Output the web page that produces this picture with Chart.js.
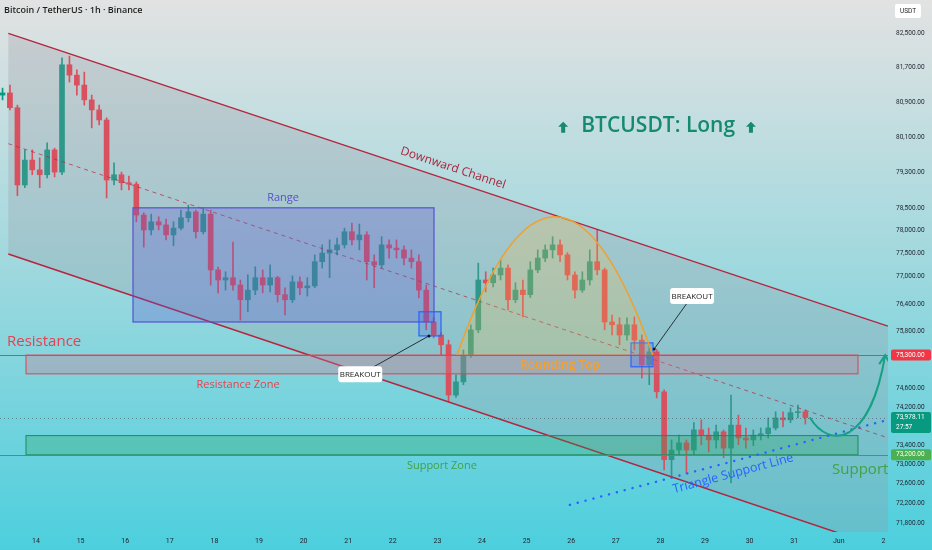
<!DOCTYPE html>
<html>
<head>
<meta charset="utf-8">
<title>BTCUSDT 1h</title>
<script src="https://cdn.jsdelivr.net/npm/chart.js@4.4.1/dist/chart.umd.min.js"></script>
<style>
  html, body { margin: 0; padding: 0; background: #dcdcdc; }
  #wrap { width: 932px; height: 550px; position: relative; }
</style>
</head>
<body>
<div id="wrap"><canvas id="btcChart" width="932" height="550"></canvas></div>
<script>
// candles are 4h, first one opens May 13 04:00 (x axis = day of month)
const firstCandleDay = 13 + 4 / 24
const candleHours = 4

const opens = [81060, 81110, 80770, 79020, 79580, 79360, 79250, 79810, 79310, 81760,
  81520, 81290, 80950, 80720, 80490, 79130, 79250, 79070, 79040, 78350,
  78020, 78200, 78130, 77910, 78060, 78290, 78420, 77980, 78370, 77140,
  76920, 76970, 76810, 76490, 76700, 76970, 76810, 76970, 76600, 76490,
  76880, 76750, 76790, 77320, 77510, 77580, 77690, 77980, 77800, 77910,
  77320, 77250, 77690, 77620, 77580, 77400, 77320, 76700, 76010, 75730,
  75520, 74450, 74730, 75300, 75840, 76920, 76860, 77030, 77180, 76490,
  76700, 76600, 77140, 77400, 77580, 77690, 77470, 77030, 76700, 76920,
  77320, 77140, 76010, 75950, 75730, 75950, 75620, 75090, 75370, 74520,
  73100, 73300, 73450, 73300, 73720, 73610, 73510, 73680, 73340, 73820,
  73550, 73510, 73610, 73640, 73760, 73970, 73930, 74080, 74100]
const highs = [81220, 81290, 80830, 79810, 79810, 79630, 79970, 79850, 81920, 81960,
  81640, 81590, 81060, 80830, 80540, 79520, 79310, 79220, 79090, 78400,
  78370, 78310, 78260, 78200, 78460, 78570, 78460, 78510, 78460, 77200,
  77100, 77750, 76920, 77030, 77210, 77140, 77250, 77000, 76750, 77010,
  76990, 76970, 77470, 77690, 77800, 77840, 78060, 78170, 78150, 77980,
  77470, 77870, 77800, 77800, 77670, 77580, 77470, 76810, 76100, 75780,
  75620, 74880, 75410, 75950, 77290, 77100, 77180, 77360, 77250, 76860,
  76920, 77320, 77580, 77690, 77870, 77800, 77520, 77100, 77100, 77580,
  78020, 77180, 76160, 76100, 76100, 76120, 75730, 75520, 75420, 74560,
  73510, 73610, 73510, 73870, 73930, 73760, 73820, 73720, 74450, 74030,
  73760, 73720, 73760, 73970, 74100, 74100, 74180, 74240, 74140]
const lows = [80950, 80720, 78780, 78960, 79250, 78960, 79180, 79200, 79250, 81360,
  81060, 80830, 80310, 80380, 78730, 79020, 78910, 78910, 78200, 77640,
  77910, 78020, 77800, 77670, 78020, 78200, 77840, 77930, 76810, 76640,
  76700, 76700, 76050, 76230, 76600, 76640, 76660, 76440, 76160, 76430,
  76600, 76570, 76750, 77180, 76970, 77470, 77620, 77690, 77580, 76920,
  76750, 77180, 77400, 77400, 77250, 77180, 76530, 75840, 75670, 75300,
  74310, 74400, 74670, 75250, 75780, 76660, 76770, 76920, 76270, 76430,
  76120, 76540, 77080, 77320, 77400, 77320, 76920, 76530, 76650, 76810,
  77030, 75840, 75730, 75520, 75620, 75410, 74810, 74670, 74390, 72890,
  72720, 73200, 72810, 73200, 73410, 73260, 73340, 73140, 72620, 73410,
  73340, 73390, 73510, 73550, 73720, 73780, 73870, 73970, 73840]
const closes = [81110, 80770, 79020, 79580, 79360, 79250, 79810, 79310, 81760, 81520,
  81290, 80950, 80720, 80490, 79130, 79250, 79070, 79040, 78350, 78020,
  78200, 78130, 77910, 78060, 78290, 78420, 77980, 78370, 77140, 76920,
  76970, 76810, 76490, 76700, 76970, 76810, 76970, 76600, 76490, 76880,
  76750, 76790, 77320, 77510, 77580, 77690, 77980, 77800, 77910, 77320,
  77250, 77690, 77620, 77580, 77400, 77320, 76700, 76010, 75730, 75520,
  74450, 74730, 75300, 75840, 76920, 76860, 77030, 77180, 76490, 76700,
  76600, 77140, 77400, 77580, 77690, 77470, 77030, 76700, 76920, 77320,
  77140, 76010, 75950, 75730, 75950, 75620, 75090, 75370, 74520, 73100,
  73300, 73450, 73300, 73720, 73610, 73510, 73680, 73340, 73820, 73550,
  73510, 73610, 73640, 73760, 73970, 73930, 74080, 74100, 73978.11]

const dayTicks = [14, 15, 16, 17, 18, 19, 20, 21, 22, 23, 24, 25, 26, 27, 28, 29, 30, 31, 32, 33]
const dayLabels = ['14', '15', '16', '17', '18', '19', '20', '21', '22', '23', '24', '25', '26', '27', '28', '29', '30', '31', 'Jun', '2']
const priceTicks = [82500, 81700, 80900, 80100, 79300, 78500, 78000, 77500, 77000, 76400,
  75800, 74600, 74200, 73400, 73000, 72600, 72200, 71800]

const lastPrice = 73978.11
const countdown = '27:57'
const resistanceLevel = 75300
const supportLevel = 73200

// drawings, in [day, price]
const channelUpper = [[13.38, 82490], [33.10, 75920]]
const channelLower = [[13.38, 77490], [33.10, 71260]]
const rangeBox = [[16.175, 78510], [22.924, 76010]]
const breakoutBoxes = [[[22.587, 76230], [23.081, 75710]], [[27.341, 75560], [27.834, 75050]]]
const resistanceZone = [[13.776, 75300], [32.43, 74900]]
const supportZone = [[13.776, 73600], [32.43, 73200]]
const roundingTop = [[23.44, 75300], [25.63, 78310], [27.83, 75300]]
const triangleSupport = [[25.97, 72170], [33.10, 73930]]
const projection = [[31.35, 73978], [31.80, 73300], [32.70, 73410], [33.04, 75300]]
const breakouts = [
  { label: [21.27, 74890], target: [22.81, 75710] },
  { label: [28.71, 76570], target: [27.86, 75430] }
]
const upArrows = [[25.82, 80310], [30.03, 80310]]
const notes = [
  { text: 'BTCUSDT: Long', at: [27.95, 80350], color: '#168a6e', font: '600 21px "Open Sans"' },
  { text: 'Downward Channel', at: [23.35, 79400], color: '#a8243c', font: '12px "Open Sans"', follow: channelUpper },
  { text: 'Range', at: [19.54, 78730], color: '#5a4fcf', font: '11px "Open Sans"' },
  { text: 'Resistance', at: [13.35, 75580], color: '#e8404f', font: '15px "Open Sans"', align: 'left' },
  { text: 'Resistance Zone', at: [18.53, 74670], color: '#e8404f', font: '11px "Open Sans"' },
  { text: 'Rounding Top', at: [25.75, 75070], color: '#f5a030', font: '600 12px "Open Sans"' },
  { text: 'Support Zone', at: [23.10, 72970], color: '#43a047', font: '11px "Open Sans"' },
  { text: 'Support', at: [32.48, 72890], color: '#43a047', font: '15px "Open Sans"' },
  { text: 'Triangle Support Line', at: [29.63, 72810], color: '#2962ff', font: '12.5px "Open Sans"', follow: triangleSupport }
]

const upColor = '#089981'
const downColor = '#f23645'

const candleDays = closes.map((_, i) => firstCandleDay + (i + 0.5) * candleHours / 24)
const candleColors = closes.map((c, i) => c >= opens[i] ? upColor : downColor)

const toPx = (chart, pt) => ({
  x: chart.scales.x.getPixelForValue(pt[0]),
  y: chart.scales.y.getPixelForValue(pt[1])
})

function rectOf(chart, box, fill, stroke, lw) {
  const a = toPx(chart, box[0]), b = toPx(chart, box[1])
  const ctx = chart.ctx
  ctx.fillStyle = fill
  ctx.fillRect(a.x, a.y, b.x - a.x, b.y - a.y)
  ctx.strokeStyle = stroke
  ctx.lineWidth = lw
  ctx.strokeRect(a.x, a.y, b.x - a.x, b.y - a.y)
}

function hLine(chart, price, color, dash) {
  const { ctx, chartArea: a } = chart
  const y = Math.round(chart.scales.y.getPixelForValue(price)) + 0.5
  ctx.strokeStyle = color
  ctx.lineWidth = 1
  ctx.setLineDash(dash || [])
  ctx.beginPath(); ctx.moveTo(a.left, y); ctx.lineTo(a.right, y); ctx.stroke()
  ctx.setLineDash([])
}

const backgroundPlugin = {
  id: 'background',
  beforeDraw(chart) {
    const { ctx, width, height } = chart
    const g = ctx.createLinearGradient(0, 0, 0, height)
    g.addColorStop(0, '#e2e2e2')
    g.addColorStop(0.5, '#9dd8de')
    g.addColorStop(1, '#4ccfdd')
    ctx.save()
    ctx.fillStyle = g
    ctx.fillRect(0, 0, width, height)
    ctx.restore()
  }
}

const drawingsPlugin = {
  id: 'drawings',
  afterDatasetsDraw(chart) {
    const { ctx, chartArea: a } = chart
    const P = pt => toPx(chart, pt)
    ctx.save()
    ctx.beginPath()
    ctx.rect(a.left, a.top, a.right - a.left, a.bottom - a.top)
    ctx.clip()

    // channel
    const u0 = P(channelUpper[0]), u1 = P(channelUpper[1])
    const l0 = P(channelLower[0]), l1 = P(channelLower[1])
    ctx.fillStyle = 'rgba(150,150,160,0.28)'
    ctx.beginPath()
    ctx.moveTo(u0.x, u0.y); ctx.lineTo(u1.x, u1.y); ctx.lineTo(l1.x, l1.y); ctx.lineTo(l0.x, l0.y)
    ctx.closePath(); ctx.fill()
    ctx.strokeStyle = '#b2263f'
    ctx.lineWidth = 1.5
    ctx.beginPath(); ctx.moveTo(u0.x, u0.y); ctx.lineTo(u1.x, u1.y); ctx.stroke()
    ctx.beginPath(); ctx.moveTo(l0.x, l0.y); ctx.lineTo(l1.x, l1.y); ctx.stroke()
    ctx.strokeStyle = 'rgba(178,38,63,0.7)'
    ctx.lineWidth = 1
    ctx.setLineDash([4, 4])
    ctx.beginPath()
    ctx.moveTo(u0.x, (u0.y + l0.y) / 2); ctx.lineTo(u1.x, (u1.y + l1.y) / 2)
    ctx.stroke()
    ctx.setLineDash([])

    // zones and levels
    rectOf(chart, resistanceZone, 'rgba(200,125,150,0.35)', '#e0404f', 1)
    rectOf(chart, supportZone, 'rgba(40,160,90,0.28)', '#1f8a5a', 1)
    hLine(chart, resistanceLevel, '#e8404f')
    hLine(chart, supportLevel, '#43a047')
    hLine(chart, lastPrice, 'rgba(70,70,70,0.55)', [1, 3])

    rectOf(chart, rangeBox, 'rgba(95,90,210,0.3)', '#5550d0', 1.2)
    breakoutBoxes.forEach(b => rectOf(chart, b, 'rgba(41,98,255,0.22)', '#2962ff', 1.2))

    // rounding top
    const r0 = P(roundingTop[0]), rp = P(roundingTop[1]), r1 = P(roundingTop[2])
    const cy = 2 * rp.y - r0.y
    ctx.beginPath()
    ctx.moveTo(r0.x, r0.y)
    ctx.quadraticCurveTo((r0.x + r1.x) / 2, cy, r1.x, r1.y)
    ctx.fillStyle = 'rgba(255,190,60,0.22)'
    ctx.fill()
    ctx.strokeStyle = '#f0a030'
    ctx.lineWidth = 1.5
    ctx.stroke()

    // triangle support line (dotted)
    const t0 = P(triangleSupport[0]), t1 = P(triangleSupport[1])
    ctx.strokeStyle = '#2962ff'
    ctx.lineWidth = 2.4
    ctx.lineCap = 'round'
    ctx.setLineDash([0.1, 8])
    ctx.beginPath(); ctx.moveTo(t0.x, t0.y); ctx.lineTo(t1.x, t1.y); ctx.stroke()
    ctx.setLineDash([])
    ctx.lineCap = 'butt'

    // projected path
    const q = projection.map(P)
    ctx.strokeStyle = '#16a085'
    ctx.lineWidth = 2
    ctx.beginPath()
    ctx.moveTo(q[0].x, q[0].y)
    ctx.bezierCurveTo(q[1].x, q[1].y, q[2].x, q[2].y, q[3].x, q[3].y)
    ctx.stroke()
    ctx.beginPath()
    ctx.moveTo(q[3].x - 6, q[3].y + 9); ctx.lineTo(q[3].x, q[3].y); ctx.lineTo(q[3].x + 5, q[3].y + 9)
    ctx.stroke()

    // breakout callouts
    breakouts.forEach(b => {
      const c = P(b.label), t = P(b.target)
      ctx.strokeStyle = '#263238'
      ctx.lineWidth = 1
      ctx.beginPath(); ctx.moveTo(c.x, c.y); ctx.lineTo(t.x, t.y); ctx.stroke()
      ctx.fillStyle = '#111'
      ctx.beginPath(); ctx.arc(t.x, t.y, 1.5, 0, Math.PI * 2); ctx.fill()
      ctx.fillStyle = '#ffffff'
      ctx.beginPath()
      ctx.roundRect(c.x - 22, c.y - 8, 44, 16, 3)
      ctx.fill()
      ctx.fillStyle = '#222'
      ctx.font = '8px "Open Sans"'
      ctx.textAlign = 'center'
      ctx.textBaseline = 'middle'
      ctx.fillText('BREAKOUT', c.x, c.y + 0.5)
    })

    // up arrows next to the headline
    upArrows.forEach(pt => {
      const p = P(pt)
      ctx.fillStyle = '#168a6e'
      ctx.beginPath()
      ctx.moveTo(p.x, p.y - 6); ctx.lineTo(p.x + 5, p.y - 1); ctx.lineTo(p.x + 2, p.y - 1)
      ctx.lineTo(p.x + 2, p.y + 5); ctx.lineTo(p.x - 2, p.y + 5); ctx.lineTo(p.x - 2, p.y - 1)
      ctx.lineTo(p.x - 5, p.y - 1)
      ctx.closePath(); ctx.fill()
    })

    // text notes
    notes.forEach(n => {
      const p = P(n.at)
      ctx.save()
      ctx.translate(p.x, p.y)
      if (n.follow) {
        const f0 = P(n.follow[0]), f1 = P(n.follow[1])
        ctx.rotate(Math.atan2(f1.y - f0.y, f1.x - f0.x))
      }
      ctx.font = n.font
      ctx.fillStyle = n.color
      ctx.textAlign = n.align || 'center'
      ctx.textBaseline = 'middle'
      ctx.fillText(n.text, 0, 0)
      ctx.restore()
    })
    ctx.restore()
  }
}

const axisLabelsPlugin = {
  id: 'axisLabels',
  afterDraw(chart) {
    const { ctx, chartArea: a } = chart
    const y = chart.scales.y
    ctx.save()
    ctx.textBaseline = 'middle'
    ctx.textAlign = 'left'

    const tag = (price, bg, lines) => {
      const py = y.getPixelForValue(price)
      const h = 10 * lines.length + 1
      ctx.fillStyle = bg
      ctx.beginPath()
      ctx.roundRect(a.right + 3, py - 5.5, 40, h, 2)
      ctx.fill()
      ctx.fillStyle = '#ffffff'
      ctx.font = '6.5px Roboto'
      lines.forEach((t, i) => ctx.fillText(t, a.right + 8, py + i * 10))
    }
    const fmt = v => v.toLocaleString('en-US', { minimumFractionDigits: 2, maximumFractionDigits: 2 })
    tag(resistanceLevel, '#f23645', [fmt(resistanceLevel)])
    tag(lastPrice, '#089981', [fmt(lastPrice), countdown])
    tag(supportLevel, '#4caf50', [fmt(supportLevel)])

    // currency box
    ctx.fillStyle = '#ffffff'
    ctx.beginPath(); ctx.roundRect(a.right + 7, 4, 26, 14, 2); ctx.fill()
    ctx.fillStyle = '#222'
    ctx.font = '6.5px Roboto'
    ctx.textAlign = 'center'
    ctx.fillText('USDT', a.right + 20, 11)

    // symbol title
    ctx.textAlign = 'left'
    ctx.font = '600 9px "Open Sans"'
    ctx.fillStyle = '#1e1e1e'
    ctx.fillText('Bitcoin / TetherUS · 1h · Binance', 4, 10)
    ctx.restore()
  }
}

// keep the plot area flush with the canvas edges
const noPadding = s => {
  s.paddingTop = 0
  s.paddingBottom = 0
  s.paddingLeft = 0
  s.paddingRight = 0
}

const ctx = document.getElementById('btcChart').getContext('2d')

new Chart(ctx, {
  type: 'bar',
  data: {
    datasets: [
      {
        label: 'Wicks',
        data: candleDays.map((d, i) => ({ x: d, y: [lows[i], highs[i]] })),
        backgroundColor: candleColors,
        barThickness: 1,
        grouped: false,
        order: 2
      },
      {
        label: 'Bodies',
        data: candleDays.map((d, i) => ({ x: d, y: [opens[i], closes[i]] })),
        backgroundColor: candleColors,
        barThickness: 5,
        minBarLength: 1,
        grouped: false,
        order: 1
      }
    ]
  },
  options: {
    responsive: false,
    animation: false,
    layout: { padding: 0 },
    plugins: {
      legend: { display: false },
      tooltip: { enabled: false }
    },
    scales: {
      x: {
        type: 'linear',
        min: 13.193,
        max: 33.103,
        bounds: 'data',
        offset: false,
        grid: { display: false, drawTicks: false },
        border: { display: false },
        afterBuildTicks: s => { s.ticks = dayTicks.map(v => ({ value: v })) },
        afterFit: s => { s.height = 18; noPadding(s) },
        ticks: {
          autoSkip: false,
          maxRotation: 0,
          padding: 5,
          color: '#1e222d',
          font: { family: 'Roboto', size: 7 },
          callback: v => dayLabels[dayTicks.indexOf(v)]
        }
      },
      y: {
        type: 'logarithmic',
        position: 'right',
        min: 71616,
        max: 83275,
        bounds: 'data',
        grid: { display: false, drawTicks: false },
        border: { display: false },
        afterBuildTicks: s => { s.ticks = priceTicks.map(v => ({ value: v })) },
        afterFit: s => { s.width = 44; noPadding(s) },
        ticks: {
          autoSkip: false,
          padding: 8,
          color: '#1e222d',
          font: { family: 'Roboto', size: 6.5 },
          callback: v => v.toLocaleString('en-US', { minimumFractionDigits: 2, maximumFractionDigits: 2 })
        }
      }
    }
  },
  plugins: [backgroundPlugin, drawingsPlugin, axisLabelsPlugin]
})
</script>
</body>
</html>
